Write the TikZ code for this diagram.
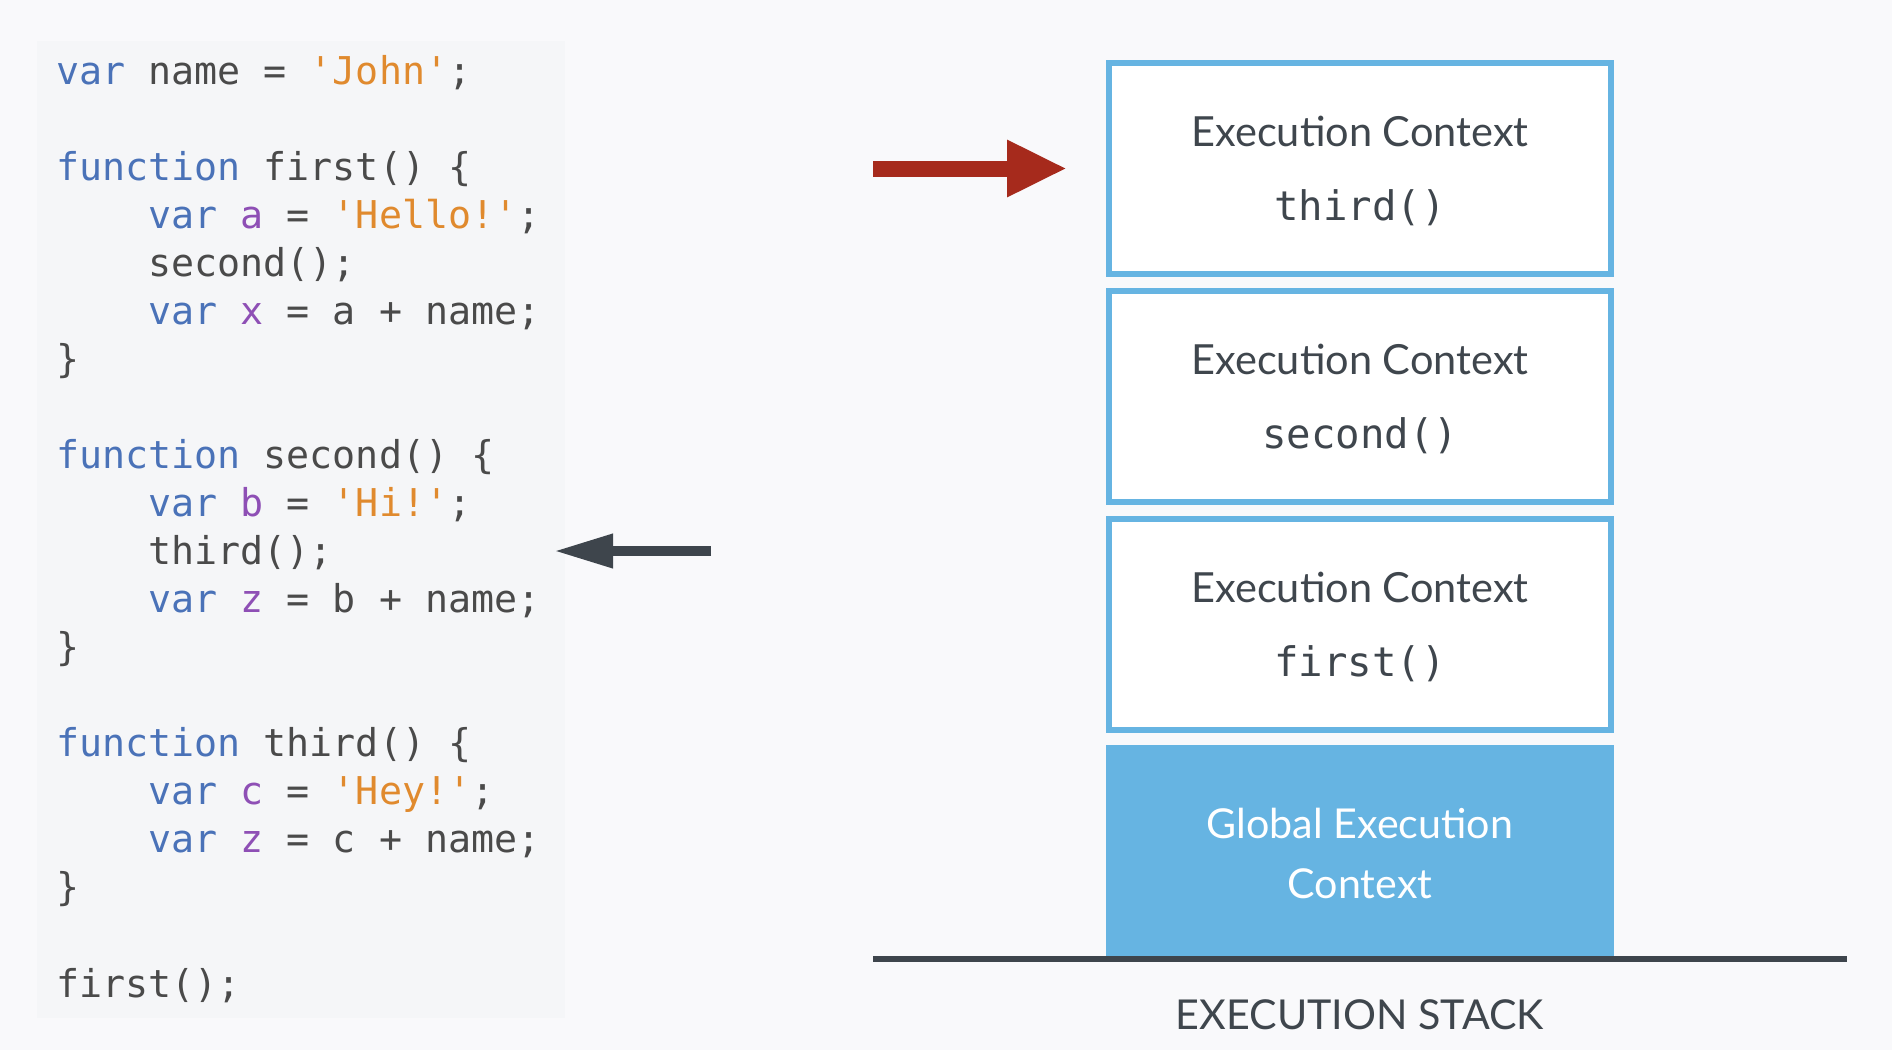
\documentclass[tikz,border=0pt]{standalone}
\usepackage{fontspec}
\usetikzlibrary{arrows.meta}
\newfontfamily\latofont{Lato}[Ligatures=Rare]
\newfontfamily\codefont{DejaVu Sans Mono}[Ligatures=TeXOff]

\definecolor{pagebg}{HTML}{F9F9FB}
\definecolor{panelbg}{HTML}{F5F6F8}
\definecolor{codetxt}{HTML}{4A4A4A}
\definecolor{kwblue}{HTML}{4A72B8}
\definecolor{varpurple}{HTML}{8E4FB5}
\definecolor{strorange}{HTML}{E08A2E}
\definecolor{ecblue}{HTML}{66B4E2}
\definecolor{slate}{HTML}{3F464D}
\definecolor{arrowred}{HTML}{A62A1C}
\definecolor{arrowdark}{HTML}{3E454C}

\newcommand{\cKw}[1]{\textcolor{kwblue}{#1}}
\newcommand{\cVar}[1]{\textcolor{varpurple}{#1}}
\newcommand{\cStr}[1]{\textcolor{strorange}{#1}}
\newcommand{\ind}{\hphantom{0000}}

\tikzset{
  codeline/.style={anchor=base west, inner sep=0pt, text=codetxt,
    font=\codefont\fontsize{38.3}{46}\selectfont},
  ctxbox/.style={draw=ecblue, line width=6pt, fill=white,
    minimum width=502pt, minimum height=211pt, inner sep=0pt},
  globalbox/.style={fill=ecblue, minimum width=508pt, minimum height=212pt, inner sep=0pt},
  ctxlabel/.style={anchor=base, inner sep=0pt, text=slate,
    font=\latofont\fontsize{41.5}{48}\selectfont},
  fnlabel/.style={anchor=base, inner sep=0pt, text=slate,
    font=\codefont\fontsize{40.7}{48}\selectfont},
  globallabel/.style={anchor=base, inner sep=0pt, text=white,
    font=\latofont\fontsize{41.2}{48}\selectfont},
  stacklabel/.style={anchor=base, inner sep=0pt, text=slate,
    font=\latofont\fontsize{41.2}{48}\selectfont},
  bigarrow/.style={line width=16pt, arrowred, -{Triangle[length=60pt,width=53pt]}},
  callarrow/.style={line width=10pt, arrowdark, -{Triangle[length=59pt,width=32pt]}}
}

\begin{document}
\frenchspacing
\begin{tikzpicture}[x=1pt, y=-1pt]
  % canvas and code panel
  \fill[pagebg] (0,0) rectangle (1892,1050);
  \useasboundingbox (0,0) rectangle (1892,1050);
  \fill[panelbg] (36.5,41) rectangle (565,1018);

  % source listing, one node per line (baseline pitch 48.05)
  \node[codeline] (l1)  at (56, 84.0)  {\cKw{var} name = \cStr{'John'};};
  \node[codeline] (l3)  at (56, 180.1) {\cKw{function} first() \{};
  \node[codeline] (l4)  at (56, 228.15) {\ind\cKw{var} \cVar{a} = \cStr{'Hello!'};};
  \node[codeline] (l5)  at (56, 276.2) {\ind second();};
  \node[codeline] (l6)  at (56, 324.25) {\ind\cKw{var} \cVar{x} = a + name;};
  \node[codeline] (l7)  at (56, 372.3) {\}};
  \node[codeline] (l9)  at (56, 468.4) {\cKw{function} second() \{};
  \node[codeline] (l10) at (56, 516.45) {\ind\cKw{var} \cVar{b} = \cStr{'Hi!'};};
  \node[codeline] (l11) at (56, 564.5) {\ind third();};
  \node[codeline] (l12) at (56, 612.55) {\ind\cKw{var} \cVar{z} = b + name;};
  \node[codeline] (l13) at (56, 660.6) {\}};
  \node[codeline] (l15) at (56, 756.7) {\cKw{function} third() \{};
  \node[codeline] (l16) at (56, 804.75) {\ind\cKw{var} \cVar{c} = \cStr{'Hey!'};};
  \node[codeline] (l17) at (56, 852.8) {\ind\cKw{var} \cVar{z} = c + name;};
  \node[codeline] (l18) at (56, 900.85) {\}};
  \node[codeline] (l20) at (56, 997.0) {first();};

  % execution stack
  \node[ctxbox] (ec3) at (1360, 168.5) {};
  \node[ctxbox] (ec2) at (1360, 396.5) {};
  \node[ctxbox] (ec1) at (1360, 624.5) {};
  \node[globalbox] (gec) at (1360, 851) {};

  \node[ctxlabel] (ec3t) at ([yshift=21.8pt]ec3.center) {Execution Context};
  \node[fnlabel]  (ec3f) at ([yshift=-51.5pt]ec3.center) {third()};
  \node[ctxlabel] (ec2t) at ([yshift=21.8pt]ec2.center) {Execution Context};
  \node[fnlabel]  (ec2f) at ([yshift=-51.5pt]ec2.center) {second()};
  \node[ctxlabel] (ec1t) at ([yshift=21.8pt]ec1.center) {Execution Context};
  \node[fnlabel]  (ec1f) at ([yshift=-51.5pt]ec1.center) {first()};
  \node[globallabel] (gect) at ([yshift=12.7pt]gec.center) {Global Execution};
  \node[globallabel] (gecc) at ([yshift=-47pt]gec.center) {Context};

  % stack floor and caption
  \coordinate (floorL) at (873, 959);
  \coordinate (floorR) at (1847, 959);
  \draw[arrowdark, line width=5.5pt] (floorL) -- (floorR);
  \node[stacklabel] (cap) at (1360, 1029) {EXECUTION STACK};

  % pointers
  \coordinate (redtail) at (873, 168.5);
  \draw[bigarrow, shorten >=39pt] (redtail) -- (ec3.west);
  \coordinate (calltail) at (711, 551);
  \coordinate (calltip) at (554, 551);
  \draw[callarrow] (calltail) -- (calltip);
\end{tikzpicture}
\end{document}
